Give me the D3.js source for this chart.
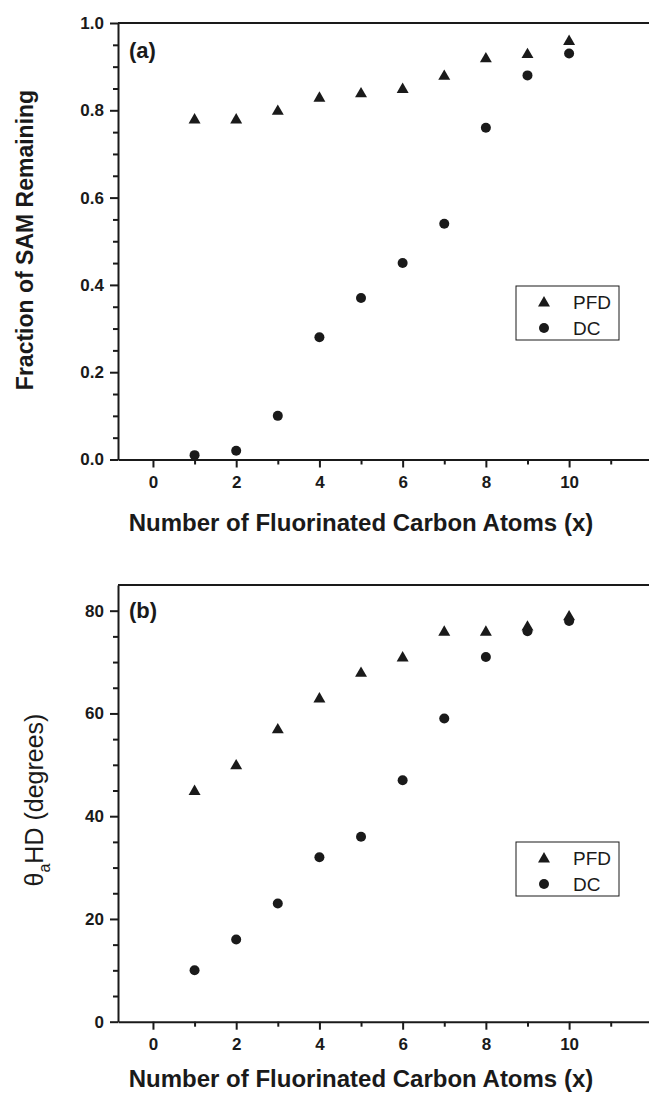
<!DOCTYPE html>
<html lang="en">
<head>
    <meta charset="UTF-8">
    <script src="https://d3js.org/d3.v7.min.js"></script>
    <title>SAM remaining and contact angle vs fluorinated carbons</title>
    <style>
        body { margin: 0; background: #fff; }
        text { font-family: "Liberation Sans", Arial, sans-serif; fill: #1a1a1a; }
    </style>
</head>
<body>
    <script>

        // data
        var carbons = [1, 2, 3, 4, 5, 6, 7, 8, 9, 10];
        var fractionPFD = [0.78, 0.78, 0.80, 0.83, 0.84, 0.85, 0.88, 0.92, 0.93, 0.96];
        var fractionDC  = [0.01, 0.02, 0.10, 0.28, 0.37, 0.45, 0.54, 0.76, 0.88, 0.93];
        var anglePFD = [45, 50, 57, 63, 68, 71, 76, 76, 77, 79];
        var angleDC  = [10, 16, 23, 32, 36, 47, 59, 71, 76, 78];

        var xTicks = [0, 2, 4, 6, 8, 10];
        var xMinor = [1, 3, 5, 7, 9, 11];
        var fracTicks = [0.0, 0.2, 0.4, 0.6, 0.8, 1.0];
        var fracMinor = [0.05, 0.1, 0.15, 0.25, 0.3, 0.35, 0.45, 0.5, 0.55, 0.65, 0.7, 0.75, 0.85, 0.9, 0.95];
        var angleTicks = [0, 20, 40, 60, 80];
        var angleMinor = [5, 10, 15, 25, 30, 35, 45, 50, 55, 65, 70, 75];
        var seriesNames = ["PFD", "DC"];

        var ink = "#1a1a1a";
        var svg = d3.select("body").append("svg").attr("width", 649).attr("height", 1095);

        var x = d3.scaleLinear().domain([-0.84, 11.92]).range([118, 649]);

        function drawPanel(cfg) {
            var g = svg.append("g");
            var y = cfg.y;
            var top = y.range()[1], bottom = y.range()[0];

            // top frame line
            g.append("line").attr("x1", x.range()[0]).attr("x2", x.range()[1])
                .attr("y1", top).attr("y2", top)
                .attr("stroke", ink).attr("stroke-width", 2);

            // minor ticks
            g.append("g").attr("transform", "translate(0," + bottom + ")")
                .call(d3.axisBottom(x).tickValues(xMinor).tickSize(5).tickFormat("").tickSizeOuter(0))
                .call(s => s.select(".domain").remove());
            g.append("g").attr("transform", "translate(" + x.range()[0] + ",0)")
                .call(d3.axisLeft(y).tickValues(cfg.minor).tickSize(5).tickFormat("").tickSizeOuter(0))
                .call(s => s.select(".domain").remove());

            // major axes
            var xa = g.append("g").attr("transform", "translate(0," + bottom + ")")
                .call(d3.axisBottom(x).tickValues(xTicks).tickSize(8).tickPadding(8).tickSizeOuter(0));
            var ya = g.append("g").attr("transform", "translate(" + x.range()[0] + ",0)")
                .call(d3.axisLeft(y).tickValues(cfg.ticks).tickSize(8).tickPadding(6).tickSizeOuter(0).tickFormat(cfg.fmt));

            g.selectAll(".tick line").attr("stroke", ink).attr("stroke-width", 2);
            g.selectAll(".domain").attr("stroke", ink).attr("stroke-width", 2);
            [xa, ya].forEach(function (a) {
                a.attr("font-size", 17).attr("font-weight", "bold")
                    .attr("font-family", "'Liberation Sans', Arial, sans-serif");
                a.selectAll("text").style("font-size", "17px").style("font-weight", "bold").attr("fill", ink);
            });

            // panel label
            g.append("text").attr("x", 129).attr("y", cfg.labelY)
                .style("font-size", "22px").style("font-weight", "bold").text(cfg.label);

            // markers
            var tri = d3.symbol().type(d3.symbolTriangle).size(62);
            g.selectAll(".pfd").data(carbons).join("path").attr("class", "pfd")
                .attr("d", tri)
                .attr("transform", (d, i) => "translate(" + x(d) + "," + (y(cfg.pfd[i]) + 1) + ")")
                .attr("fill", ink);
            g.selectAll(".dc").data(carbons).join("circle").attr("class", "dc")
                .attr("cx", d => x(d)).attr("cy", (d, i) => y(cfg.dc[i]))
                .attr("r", 5).attr("fill", ink);

            // legend
            var lg = g.append("g").attr("transform", "translate(516," + cfg.legendY + ")");
            lg.append("rect").attr("width", 103).attr("height", 54)
                .attr("fill", "#fff").attr("stroke", ink).attr("stroke-width", 1);
            seriesNames.forEach(function (name, i) {
                var cy = 16 + i * 26;
                if (i === 0) {
                    lg.append("path").attr("d", tri).attr("transform", "translate(28," + (cy + 1) + ")").attr("fill", ink);
                } else {
                    lg.append("circle").attr("cx", 28).attr("cy", cy).attr("r", 5).attr("fill", ink);
                }
                lg.append("text").attr("x", 57).attr("y", cy + 7)
                    .style("font-size", "19px").text(name);
            });

            // x title
            g.append("text").attr("x", 361).attr("y", cfg.xTitleY).attr("text-anchor", "middle")
                .style("font-size", "24px").style("font-weight", "bold")
                .text("Number of Fluorinated Carbon Atoms (x)");

            return g;
        }

        var yFrac = d3.scaleLinear().domain([0, 1]).range([459.5, 23]);
        var gA = drawPanel({
            y: yFrac, ticks: fracTicks, minor: fracMinor, fmt: d3.format(".1f"),
            pfd: fractionPFD, dc: fractionDC, label: "(a)", labelY: 58,
            legendY: 286, xTitleY: 531
        });
        gA.append("text").attr("transform", "translate(33,240) rotate(-90)")
            .attr("text-anchor", "middle")
            .style("font-size", "23px").style("font-weight", "bold")
            .text("Fraction of SAM Remaining");

        var yAngle = d3.scaleLinear().domain([0, 85]).range([1021.7, 585]);
        var gB = drawPanel({
            y: yAngle, ticks: angleTicks, minor: angleMinor, fmt: d3.format("d"),
            pfd: anglePFD, dc: angleDC, label: "(b)", labelY: 618,
            legendY: 842, xTitleY: 1087
        });
        var yt = gB.append("text").attr("transform", "translate(43,800) rotate(-90)")
            .attr("text-anchor", "middle").style("font-size", "25px");
        yt.append("tspan").text("\u03B8");
        yt.append("tspan").attr("dy", 7).style("font-size", "16px").text("a");
        yt.append("tspan").attr("dy", -7).text("HD (degrees)");

    </script>
</body>
</html>
